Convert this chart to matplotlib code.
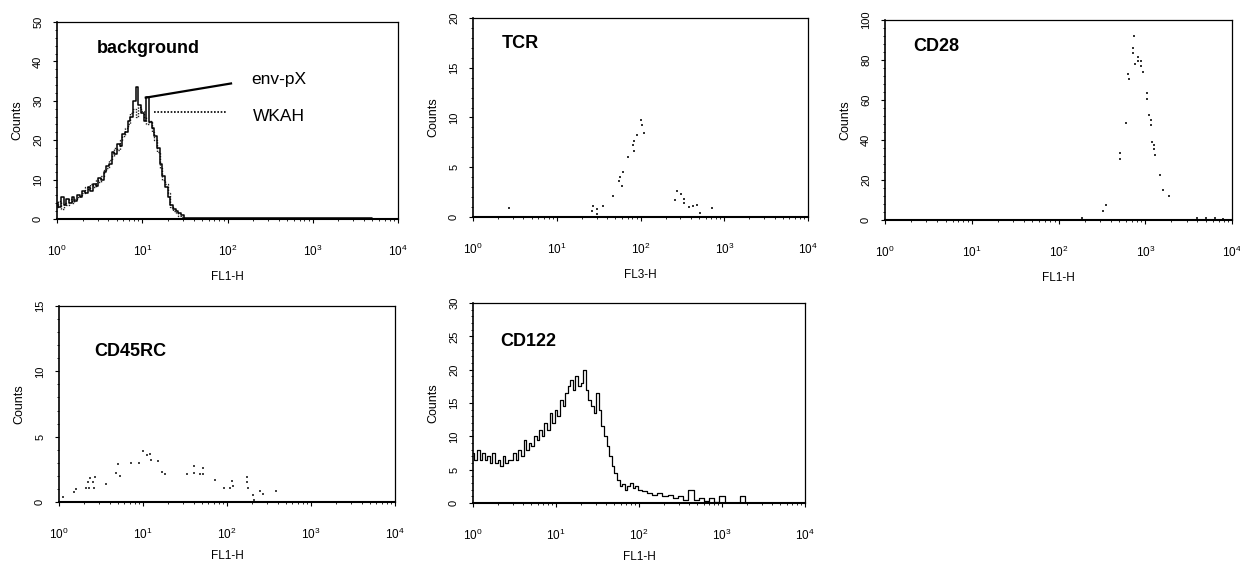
import matplotlib
matplotlib.use("Agg")
import matplotlib.pyplot as plt
from matplotlib.ticker import AutoMinorLocator, LogLocator, NullFormatter, FixedLocator
import numpy as np

plt.rcParams['font.family'] = ['Liberation Sans', 'DejaVu Sans']
plt.rcParams['mathtext.default'] = 'regular'

# ---------------- data ----------------
# FACS channel numbers (256 channels over 4 decades); fluorescence = 10**(ch/64)
bg_channels = [0, 2, 4, 6, 8, 10, 12, 14, 16, 18, 20, 22, 24, 26, 28, 30, 32, 34, 36, 38,
               40, 42, 44, 46, 48, 50, 52, 54, 56, 58, 60, 62, 64, 66, 68, 70, 72, 74, 76, 78,
               80, 82, 84, 86, 88, 90, 92, 94, 96, 256]
bg_envpx = [4, 3, 5.5, 3.5, 5, 4, 5.5, 4.5, 6, 5.5, 7, 6.5, 8, 7, 9, 8.5, 10.5, 10, 12, 13.5,
            14, 17, 16.5, 19, 18.5, 21.5, 22, 25, 26, 30, 33.5, 29, 27, 25, 31, 24.5, 23, 21, 18, 14,
            11, 8, 5.5, 3.5, 2.5, 2, 1.5, 1, 0.3, 0]
bg_wkah = [3, 4.5, 2.5, 4, 3.5, 5, 4, 5, 5.5, 6, 6.5, 8, 7.5, 9, 8, 10, 9.5, 11, 12.5, 13,
           15, 16, 18, 17.5, 20, 21, 23, 24, 27, 28, 26, 28.5, 27.5, 26, 24, 25, 22, 20, 17, 13,
           10, 9, 6.5, 3, 2, 1.5, 0.8, 0.5, 0, 0]

tcr_x = [2.7, 26.1, 27.4, 30.0, 30.5, 36.0, 47.3, 55.8, 56.9, 59.7, 62.4, 70.3, 82.0, 83.6,
         84.4, 91.6, 101.4, 104.2, 109.6, 258, 270, 305, 331, 331, 379, 420, 476, 513, 714]
tcr_counts = [0.9, 0.6, 1.1, 0.8, 0.3, 1.1, 2.1, 3.6, 4.05, 3.1, 4.55, 6.0, 7.2, 6.6,
              7.6, 8.2, 9.75, 9.2, 8.4, 1.7, 2.65, 2.3, 1.8, 1.4, 1.0, 1.1, 1.2, 0.4, 0.95]

cd28_x = [185, 329, 353, 512, 512, 600, 638, 646, 728, 728, 736, 762, 824, 832, 893, 893,
          933, 1038, 1038, 1104, 1164, 1164, 1205, 1259, 1271, 1306, 1479, 1614, 1892,
          3981, 5012, 6310, 7943]
cd28_counts = [1, 4.5, 7.3, 33.3, 30.7, 48.7, 73, 70.3, 86.2, 83.7, 92.2, 78, 79.7, 81.3, 79.7, 77.2,
               74.2, 63.7, 60.7, 52.5, 50, 47.3, 39.2, 37.5, 35.5, 32.3, 22.5, 15, 12,
               1, 0.8, 1, 0.6]

cd45rc_x = [1.12, 1.52, 1.61, 2.11, 2.21, 2.25, 2.32, 2.54, 2.59, 2.70, 3.66, 4.81, 5.08, 5.37,
            7.19, 8.87, 9.98, 11.2, 12.2, 12.4, 15.1, 16.8, 18.1, 33.4, 40.1, 40.7, 48.1, 51.8,
            51.8, 72.6, 92.9, 110, 115, 118, 173, 173, 176, 204, 208, 245, 269, 386]
cd45rc_counts = [0.4, 0.8, 1.0, 1.1, 1.5, 1.1, 1.8, 1.5, 1.05, 1.95, 1.4, 2.25, 2.9, 2.0,
                 2.95, 2.95, 3.9, 3.6, 3.7, 3.25, 3.15, 2.3, 2.15, 2.15, 2.2, 2.75, 2.15, 2.6,
                 2.15, 1.7, 1.05, 1.05, 1.6, 1.2, 1.9, 1.5, 1.05, 0.55, 0.15, 0.85, 0.6, 0.85]

cd122_channels = [0, 2, 4, 6, 8, 10, 12, 14, 16, 18, 20, 22, 24, 26, 28, 30, 32, 34, 36, 38,
                  40, 42, 44, 46, 48, 50, 52, 54, 56, 58, 60, 62, 64, 66, 68, 70, 72, 74, 76, 78,
                  80, 82, 84, 86, 88, 90, 92, 94, 96, 98, 100, 102, 104, 106, 108, 110, 112, 114,
                  116, 118, 120, 122, 124, 126, 128, 132, 136, 140, 144, 148, 152, 156, 160, 164,
                  168, 172, 176, 180, 184, 188, 192, 196, 200, 204, 208, 212, 256]
cd122_counts = [7.5, 6.5, 8, 6.5, 7.5, 6.5, 7, 6, 7.5, 6, 6.5, 5.5, 7, 6, 6.5, 6.5, 7.5, 6.5, 8, 7,
                9.5, 8, 9, 8.5, 10, 9.5, 11, 10, 12, 11, 13.5, 12, 14, 13, 15.5, 14.5, 16.5, 17.5,
                18.5, 17, 19, 17.5, 18, 20, 17, 15.5, 14.5, 13.5, 16.5, 14, 11.5, 10, 8.5, 7, 5.5,
                4.5, 3.5, 2.5, 2.8, 2, 2.5, 3, 2.2, 2.5, 2, 1.8, 1.5, 1.2, 1.5, 1, 1.2, 0.8, 1,
                0.5, 2, 0.5, 0.8, 0.3, 0.8, 0.2, 1, 0, 0, 0, 1, 0, 0]

x_ticks = [1, 10, 100, 1000, 10000]
x_tick_labels = [r'$10^{0}$', r'$10^{1}$', r'$10^{2}$', r'$10^{3}$', r'$10^{4}$']

panel_titles = ['background', 'TCR', 'CD28', 'CD45RC', 'CD122']
panel_xlabels = ['FL1-H', 'FL3-H', 'FL1-H', 'FL1-H', 'FL1-H']
panel_ymax = [50, 20, 100, 15, 30]
panel_ystep = [10, 5, 20, 5, 5]

# ---------------- layout (pixels: left, right, top, bottom) ----------------
W, H = 1240, 564
boxes = [(57, 398, 22, 219), (473, 808, 18, 217), (885, 1232, 20, 220),
         (59, 395, 306, 502), (473, 805, 303, 503)]
title_pos = [(0.117, 0.868), (0.086, 0.873), (0.081, 0.867), (0.104, 0.767), (0.081, 0.807)]
xlabel_pad = [9, 9, 9, 6, 6]

fig = plt.figure(figsize=(W / 100, H / 100), dpi=100)
axes = []
for i, (l, r, t, b) in enumerate(boxes):
    ax = fig.add_axes([l / W, (H - b) / H, (r - l) / W, (b - t) / H])
    ax.set_xscale('log')
    ax.set_xlim(1, 10000)
    ax.set_ylim(0, panel_ymax[i])
    ax.set_yticks(np.arange(0, panel_ymax[i] + 0.1, panel_ystep[i]))
    ax.yaxis.set_minor_locator(AutoMinorLocator(5))
    ax.xaxis.set_major_locator(FixedLocator(x_ticks))
    ax.set_xticklabels(x_tick_labels)
    ax.xaxis.set_minor_locator(LogLocator(base=10, subs=np.arange(2, 10)))
    ax.xaxis.set_minor_formatter(NullFormatter())
    ax.tick_params(axis='both', which='major', direction='out', length=3, width=0.8,
                   labelsize=8.5)
    ax.tick_params(axis='both', which='minor', direction='out', length=1.6, width=0.6)
    ax.tick_params(axis='x', which='major', pad=14.5)
    ax.tick_params(axis='y', which='major', pad=7.0, labelrotation=90, labelsize=8)
    for lab in ax.get_yticklabels():
        lab.set_va('center')
    for sp in ax.spines.values():
        sp.set_linewidth(0.9)
    ax.spines['bottom'].set_linewidth(1.5)
    ax.spines['left'].set_linewidth(1.2)
    ax.set_xlabel(panel_xlabels[i], fontsize=8.5, labelpad=xlabel_pad[i])
    ax.set_ylabel('Counts', fontsize=9, labelpad=7)
    ax.text(title_pos[i][0], title_pos[i][1], panel_titles[i], transform=ax.transAxes,
            fontsize=13, fontweight='bold', ha='left', va='center')
    axes.append(ax)

# panel 1: background overlays
ax = axes[0]
bg_x = 10 ** (np.array(bg_channels) / 64.0)
ax.plot(bg_x, bg_wkah, color='#222222', lw=1.0, ls=(0, (1, 1)), drawstyle='steps-mid')
ax.plot(bg_x, bg_envpx, color='black', lw=1.1, drawstyle='steps-mid')
ax.plot([11, 110], [30.8, 34.4], color='black', lw=1.6)
ax.plot([13.7, 98], [27.2, 27.2], color='black', lw=1.2, ls=(0, (1, 1)))
ax.text(192, 35.3, 'env-pX', fontsize=12.5, ha='left', va='center')
ax.text(200, 26.0, 'WKAH', fontsize=12.5, ha='left', va='center')

# panel 2: TCR
axes[1].scatter(tcr_x, tcr_counts, s=3, color='#333333', marker='s', linewidths=0)
# panel 3: CD28
axes[2].scatter(cd28_x, cd28_counts, s=3, color='#333333', marker='s', linewidths=0)
# panel 4: CD45RC
axes[3].scatter(cd45rc_x, cd45rc_counts, s=3, color='#444444', marker='s', linewidths=0)
# panel 5: CD122
cd_x = 10 ** (np.array(cd122_channels) / 64.0)
axes[4].plot(cd_x, cd122_counts, color='black', lw=0.9, drawstyle='steps-mid')

fig.savefig('out.png', dpi=100)
